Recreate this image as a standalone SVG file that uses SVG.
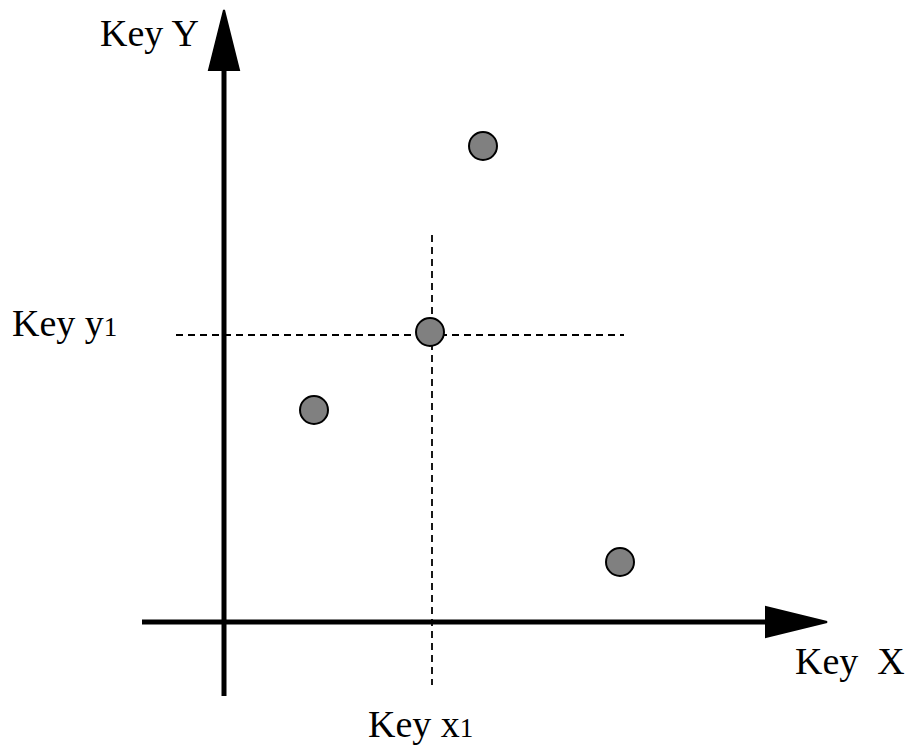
<svg xmlns="http://www.w3.org/2000/svg" width="912" height="747" viewBox="0 0 912 747">
<style>
.axis{stroke:#000;stroke-width:5;fill:none}
.dash{stroke:#000;stroke-width:1.8;stroke-dasharray:7 5;fill:none}
.pt{fill:#808080;stroke:#000;stroke-width:2}
.lbl{font-family:"Liberation Serif",serif;font-size:38px;fill:#000}
.sub{font-size:27px}
</style>
<rect width="912" height="747" fill="#fff"/>
<g id="connectors">
<line class="axis" x1="224" y1="696" x2="224" y2="68"/>
<polygon points="224,10 209,70 239,70" fill="#000" stroke="#000" stroke-width="2"/>
<line class="axis" x1="142" y1="622" x2="768" y2="622"/>
<polygon points="827,622 766,607 766,637" fill="#000" stroke="#000" stroke-width="2"/>
<line class="dash" x1="176" y1="335" x2="624" y2="335"/>
<line class="dash" x1="432" y1="235" x2="432" y2="685"/>
</g>
<g id="p1"><circle class="pt" cx="483" cy="146" r="14"/></g>
<g id="p2"><circle class="pt" cx="430" cy="332" r="14"/></g>
<g id="p3"><circle class="pt" cx="314" cy="410" r="14"/></g>
<g id="p4"><circle class="pt" cx="620" cy="562" r="14"/></g>
<g id="labelY"><text class="lbl" x="100" y="46">Key Y</text></g>
<g id="labely1"><text class="lbl" x="12" y="336">Key y<tspan class="sub">1</tspan></text></g>
<g id="labelX"><text class="lbl" x="795" y="674" xml:space="preserve">Key  X</text></g>
<g id="labelx1"><text class="lbl" x="368" y="737">Key x<tspan class="sub">1</tspan></text></g>
</svg>
